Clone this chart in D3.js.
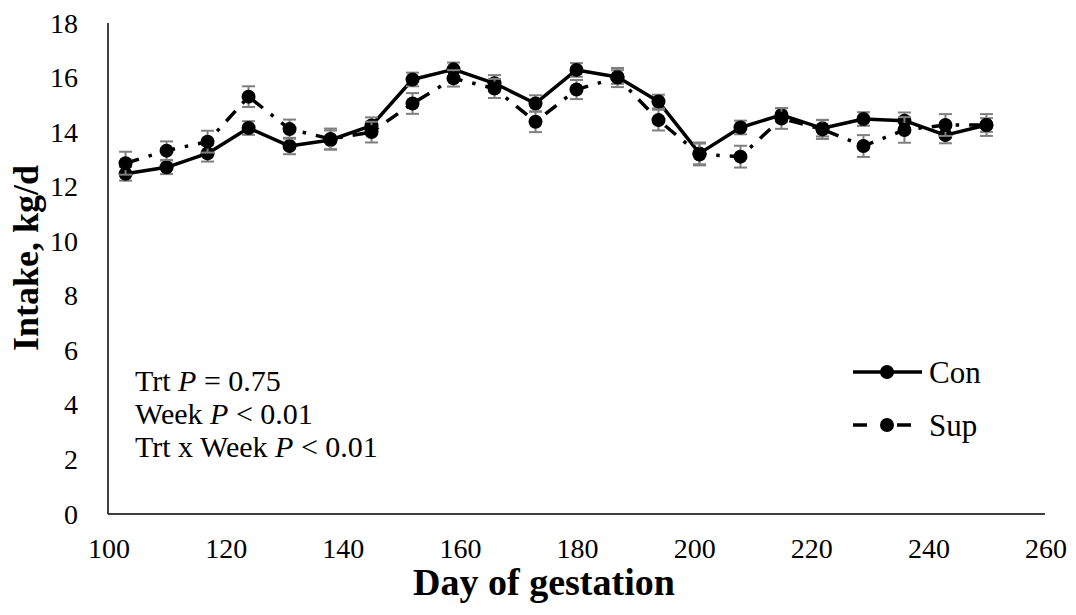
<!DOCTYPE html>
<html><head><meta charset="utf-8">
<script src="https://cdn.jsdelivr.net/npm/d3@7"></script>
<style>body{margin:0;background:#fff}svg{display:block}</style>
</head><body><svg id="c" width="1076" height="615"></svg>
<script>
const days = [103,110,117,124,131,138,145,152,159,166,173,180,187,194,201,208,215,222,229,236,243,250];
const conValues = [12.47,12.71,13.22,14.15,13.49,13.71,14.24,15.93,16.3,15.79,15.05,16.28,16.02,15.12,13.22,14.17,14.63,14.14,14.48,14.42,13.89,14.26];
const supValues = [12.86,13.32,13.65,15.3,14.11,13.75,14.0,15.05,15.97,15.6,14.38,15.56,16.0,14.44,13.18,13.1,14.5,14.1,13.49,14.08,14.26,14.26];
const conSE = [0.25,0.25,0.3,0.25,0.3,0.35,0.3,0.25,0.25,0.3,0.3,0.25,0.25,0.25,0.4,0.25,0.25,0.3,0.25,0.3,0.3,0.25];
const supSE = [0.42,0.34,0.4,0.38,0.35,0.38,0.38,0.38,0.3,0.35,0.38,0.35,0.35,0.38,0.4,0.4,0.38,0.35,0.4,0.47,0.4,0.4];
const xTicks = [100,120,140,160,180,200,220,240,260];
const yTicks = [0,2,4,6,8,10,12,14,16,18];
const seriesNames = ["Con","Sup"];
const annotations = [["Trt ","P"," = 0.75"],["Week ","P"," < 0.01"],["Trt x Week ","P"," < 0.01"]];

const FONT = "'Liberation Serif','Times New Roman',serif";
const svg = d3.select("#c");
const x = d3.scaleLinear().domain([100,260]).range([108,1045]);
const y = d3.scaleLinear().domain([0,18]).range([514,23]);

svg.append("line").attr("x1",x(100)).attr("x2",x(100)).attr("y1",y(18)).attr("y2",y(0)).attr("stroke","#000").attr("stroke-width",1.5);
svg.append("line").attr("x1",x(100)).attr("x2",x(260)).attr("y1",y(0)).attr("y2",y(0)).attr("stroke","#000").attr("stroke-width",1.5);

svg.selectAll(".yt").data(yTicks).enter().append("text")
  .attr("x",78).attr("y",d=>y(d)).attr("dy","0.34em").attr("text-anchor","end")
  .attr("font-family",FONT).attr("font-size",28).text(d=>d);
svg.selectAll(".xt").data(xTicks).enter().append("text")
  .attr("x",d=>x(d)+1).attr("y",558).attr("text-anchor","middle")
  .attr("font-family",FONT).attr("font-size",28).text(d=>d);

svg.append("text").attr("x",544).attr("y",595).attr("text-anchor","middle")
  .attr("font-family",FONT).attr("font-size",38).attr("font-weight","bold").text("Day of gestation");
svg.append("text").attr("transform","translate(38,258) rotate(-90)").attr("text-anchor","middle")
  .attr("font-family",FONT).attr("font-size",36).attr("font-weight","bold").text("Intake, kg/d");

const series = [
  {name:"Con", vals:conValues, se:conSE, dash:null},
  {name:"Sup", vals:supValues, se:supSE, dash:"14,10,3.5,10"}
];
const line = d3.line().x((d,i)=>x(days[i])).y(d=>y(d));

series.forEach(s=>{
  const g = svg.append("g");
  g.append("path").attr("d",line(s.vals)).attr("fill","none").attr("stroke","#000")
    .attr("stroke-width",3.5).attr("stroke-linejoin","round").attr("stroke-dasharray",s.dash);
  const eb = g.selectAll(".eb").data(s.vals).enter().append("g");
  eb.append("line").attr("x1",(d,i)=>x(days[i])).attr("x2",(d,i)=>x(days[i]))
    .attr("y1",(d,i)=>y(d+s.se[i])).attr("y2",(d,i)=>y(d-s.se[i])).attr("stroke","#7f7f7f").attr("stroke-width",2);
  [1,-1].forEach(sg=>{
    eb.append("line").attr("x1",(d,i)=>x(days[i])-6.5).attr("x2",(d,i)=>x(days[i])+6.5)
      .attr("y1",(d,i)=>y(d+sg*s.se[i])).attr("y2",(d,i)=>y(d+sg*s.se[i])).attr("stroke","#7f7f7f").attr("stroke-width",2);
  });
  g.selectAll("circle").data(s.vals).enter().append("circle")
    .attr("cx",(d,i)=>x(days[i])).attr("cy",d=>y(d)).attr("r",7).attr("fill","#000");
});

const leg = [{name:seriesNames[0], y:372, dash:null},{name:seriesNames[1], y:425, dash:"14,30"}];
leg.forEach(l=>{
  svg.append("line").attr("x1",853).attr("x2",922).attr("y1",l.y).attr("y2",l.y)
    .attr("stroke","#000").attr("stroke-width",3.5).attr("stroke-dasharray",l.dash);
  svg.append("circle").attr("cx",887).attr("cy",l.y).attr("r",7).attr("fill","#000");
  svg.append("text").attr("x",929).attr("y",l.y).attr("dy","0.34em")
    .attr("font-family",FONT).attr("font-size",31).text(l.name);
});

annotations.forEach((a,i)=>{
  const t = svg.append("text").attr("x",135).attr("y",[391,424,457][i])
    .attr("font-family",FONT).attr("font-size",30);
  t.append("tspan").text(a[0]);
  t.append("tspan").attr("font-style","italic").text(a[1]);
  t.append("tspan").text(a[2]);
});
</script></body></html>
